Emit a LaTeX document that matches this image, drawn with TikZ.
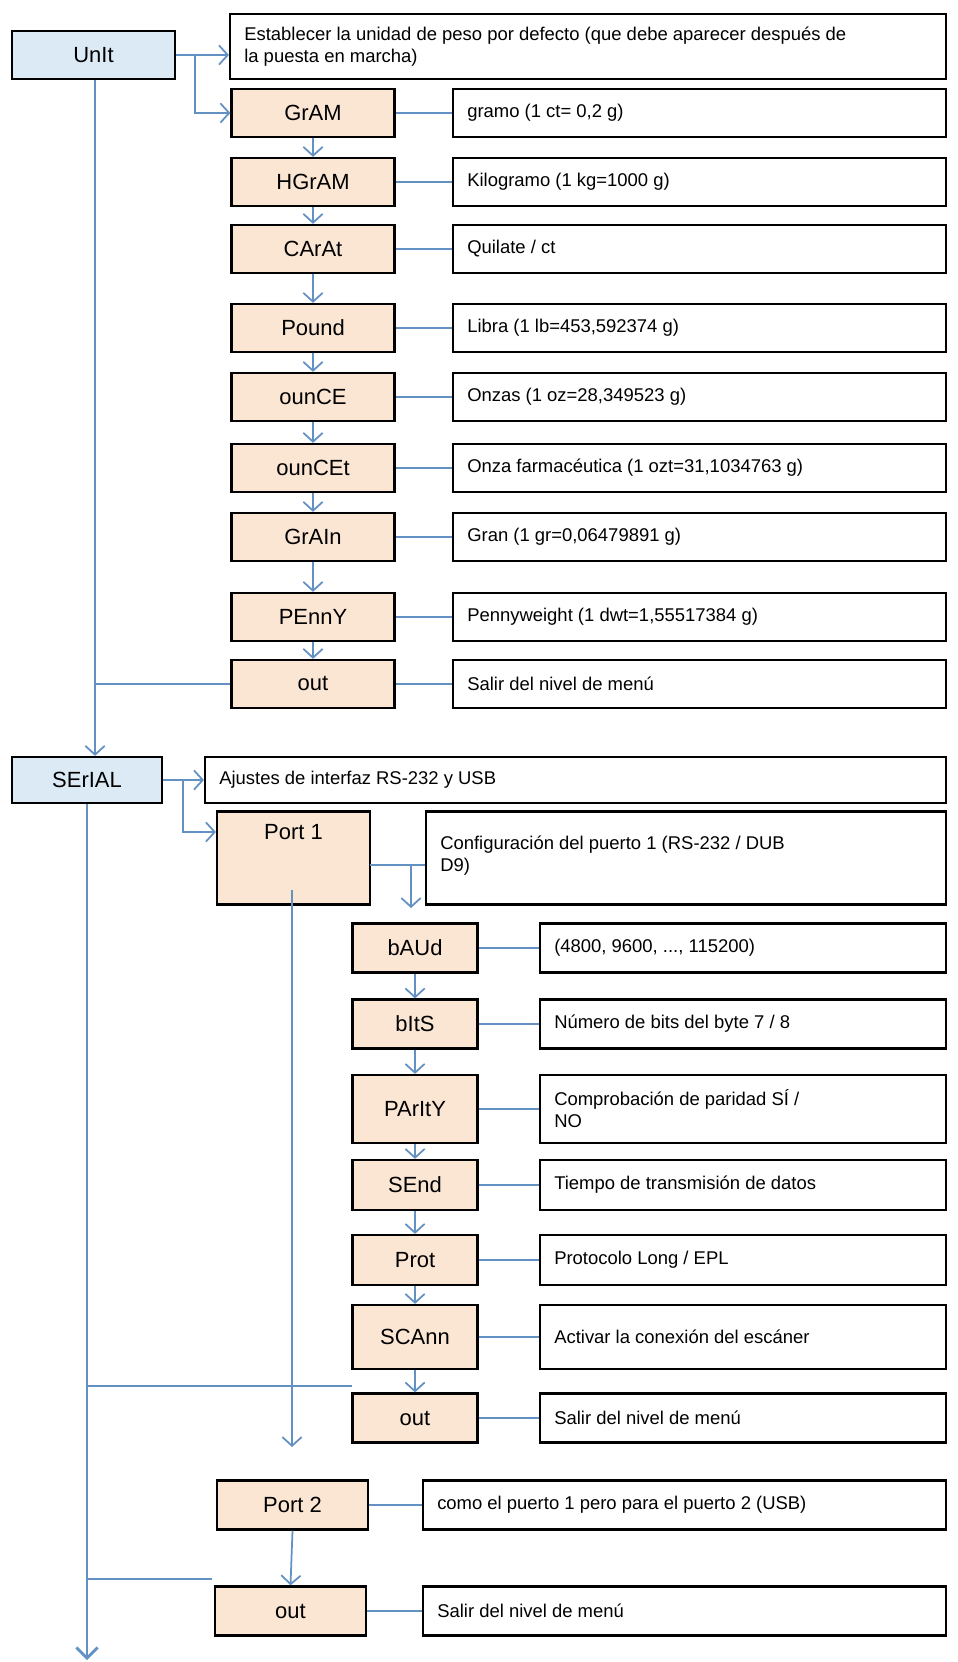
\documentclass[tikz,border=0pt]{standalone}
\usepackage{fontspec}
\setmainfont{Liberation Sans}
\usetikzlibrary{arrows.meta}
\definecolor{ln}{RGB}{100,145,195}
\definecolor{ublue}{RGB}{220,234,245}
\definecolor{ipeach}{RGB}{251,229,211}
\begin{document}
\begin{tikzpicture}[x=0.02cm,y=-0.02cm,
  box/.style={draw=black,line width=1.3pt,inner sep=0pt,font=\fontsize{12.5}{14}\selectfont},
  unit/.style={box,fill=ublue},
  item/.style={box,fill=ipeach,minimum width=3.26cm,minimum height=0.96cm},
  sub/.style={box,fill=ipeach,minimum width=2.5cm},
  desc/.style={draw=black,line width=1.3pt,fill=white,inner sep=0pt},
  dtext/.style={anchor=west,inner xsep=0.3cm,inner ysep=0pt,align=left,font=\fontsize{10.5}{12.5}\selectfont},
  con/.style={draw=ln,line width=1pt},
  arr/.style={con,-{Straight Barb[length=5pt,width=11pt]}},
]
\useasboundingbox (0,0) rectangle (957,1662);
% ---- UnIt section
\node[unit,minimum width=3.26cm,minimum height=0.96cm] (unit) at (93.5,55) {UnIt};
\node[desc,minimum width=14.32cm,minimum height=1.3cm] (tdesc) at (588,46.5) {};
\node[dtext] (tdesct) at (tdesc.west) {Establecer la unidad de peso por defecto (que debe aparecer después de\\la puesta en marcha)};
\foreach \n/\t/\y/\d in {
  i1/GrAM/113/{gramo (1 ct= 0,2 g)},
  i2/HGrAM/182/{Kilogramo (1 kg=1000 g)},
  i3/CArAt/249/{Quilate / ct},
  i4/Pound/328/{Libra (1 lb=453,592374 g)},
  i5/ounCE/397/{Onzas (1 oz=28,349523 g)},
  i6/ounCEt/468/{Onza farmacéutica (1 ozt=31,1034763 g)},
  i7/GrAIn/537/{Gran (1 gr=0,06479891 g)},
  i8/PEnnY/617/{Pennyweight (1 dwt=1,55517384 g)},
  i9/out/684/{Salir del nivel de menú}}{
  \node[item] (\n) at (313,\y) {\t};
  \node[desc,minimum width=9.86cm,minimum height=0.96cm] (\n d) at (699.5,\y) {};
  \node[dtext] (\n t) at (\n d.west) {\d};
  \draw[con] (\n.east) -- (\n d.west);
}
\coordinate (b1) at (195,55);
\draw[con] (unit.east) -- (b1);
\draw[arr] (b1) -- (tdesc.west |- b1);
\draw[arr] (b1) |- (i1.west);
\foreach \a/\b in {i1/i2,i2/i3,i3/i4,i4/i5,i5/i6,i6/i7,i7/i8,i8/i9}{
  \draw[arr] (\a.south) -- (\b.north);
}
% ---- SErIAL section
\node[unit,minimum width=3cm,minimum height=0.92cm] (ser) at (87,780) {SErIAL};
\coordinate (m1) at (95,684);
\draw[con] (i9.west) -- (m1);
\draw[arr] (unit.south -| m1) -- (m1 |- ser.north);
\node[desc,minimum width=14.82cm,minimum height=0.92cm] (sdesc) at (575.5,780) {};
\node[dtext] (sdesct) at (sdesc.west) {Ajustes de interfaz RS-232 y USB};
\coordinate (b2) at (183,780);
\draw[con] (ser.east) -- (b2);
\draw[arr] (b2) -- (sdesc.west);
\node[sub,minimum width=3.06cm,minimum height=1.86cm] (p1) at (293.5,858) {};
\node[font=\fontsize{12.5}{14}\selectfont] (p1t) at (293.5,832) {Port 1};
\draw[arr] (b2) |- (p1.west |- p1t);
\node[desc,minimum width=10.4cm,minimum height=1.86cm] (p1d) at (686,858) {};
\node[dtext] (p1dt) at (p1d.west |- 0,856) {Configuración del puerto 1 (RS-232 / DUB\\D9)};
\coordinate (b3) at (370,865);
\coordinate (b4) at (411,865);
\draw[con] (b3) -- (b3 -| p1d.west);
\foreach \n/\t/\y/\h/\d in {
  s1/bAUd/948/0.98/{(4800, 9600, ..., 115200)},
  s2/bItS/1024/0.98/{Número de bits del byte 7 / 8},
  s3/PArItY/1109/1.36/{Comprobación de paridad SÍ /\\NO},
  s4/SEnd/1185/1.0/{Tiempo de transmisión de datos},
  s5/Prot/1260/1.0/{Protocolo Long / EPL},
  s6/SCAnn/1337/1.28/{Activar la conexión del escáner},
  s7/out/1418/0.98/{Salir del nivel de menú}}{
  \node[sub,minimum height=\h cm] (\n) at (415,\y) {\t};
  \node[desc,minimum width=8.12cm,minimum height=\h cm] (\n d) at (743,\y) {};
  \node[dtext] (\n t) at (\n d.west) {\d};
  \draw[con] (\n.east) -- (\n d.west);
}
\draw[arr] (b4) -- (411,908);
\foreach \a/\b in {s1/s2,s2/s3,s3/s4,s4/s5,s5/s6,s6/s7}{
  \draw[arr] (\a.south) -- (\b.north);
}
\coordinate (m2) at (87,1386);
\draw[con] (352,1386) -- (m2);
\draw[arr] (292,890) -- (292,1447);
\node[sub,minimum width=3.02cm,minimum height=0.98cm] (p2) at (292.5,1505) {Port 2};
\node[desc,minimum width=10.46cm,minimum height=0.98cm] (p2d) at (684.5,1505) {};
\node[dtext] (p2dt) at (p2d.west) {como el puerto 1 pero para el puerto 2 (USB)};
\draw[con] (p2.east) -- (p2d.west);
\node[sub,minimum width=3.02cm,minimum height=0.98cm] (o2) at (290.5,1611) {out};
\node[desc,minimum width=10.46cm,minimum height=0.98cm] (o2d) at (684.5,1611) {};
\node[dtext] (o2dt) at (o2d.west) {Salir del nivel de menú};
\draw[con] (o2.east) -- (o2d.west);
\draw[arr] (p2.south) -- (o2.north);
\coordinate (m3) at (87,1579);
\draw[con] (212,1579) -- (m3);
\draw[con,line width=1.6pt,-{Straight Barb[length=6pt,width=12pt]}] (ser.south) -- (87,1660);
\end{tikzpicture}
\end{document}
